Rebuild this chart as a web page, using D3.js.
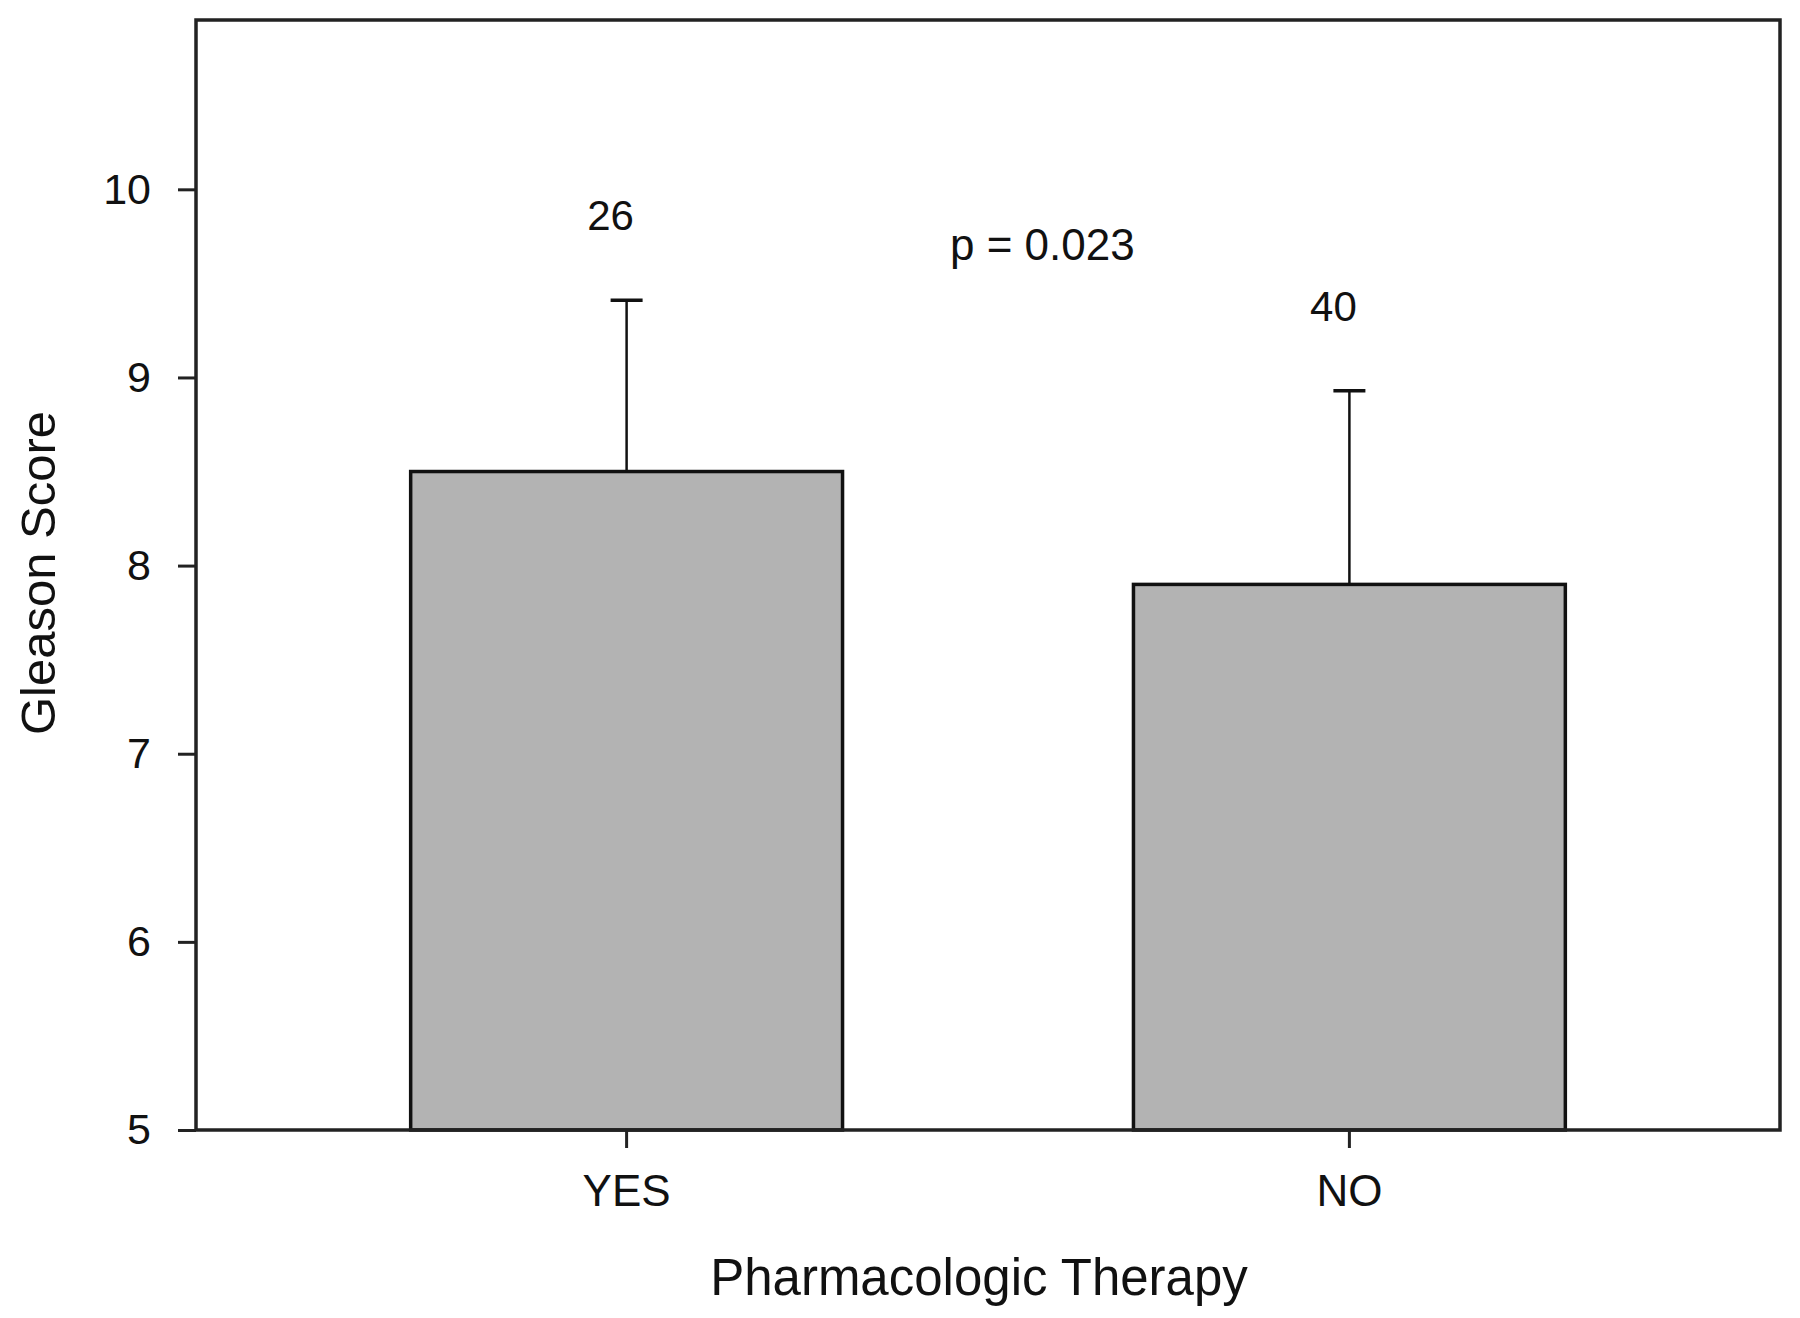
<!DOCTYPE html>
<html>
<head>
<meta charset="utf-8">
<script src="https://cdn.jsdelivr.net/npm/d3@7"></script>
<style>
  html, body { margin: 0; padding: 0; background: #fff; }
  svg { display: block; }
  text { font-family: "Liberation Sans", Arial, sans-serif; fill: #111; }
</style>
</head>
<body>
<svg id="chart" width="1800" height="1318"></svg>
<script>
const categories = ["YES", "NO"];
const means = [8.5, 7.9];
const errors = [0.91, 1.03];
const counts = ["26", "40"];
const yTicks = [5, 6, 7, 8, 9, 10];
const pLabel = "p = 0.023";
const xTitle = "Pharmacologic Therapy";
const yTitle = "Gleason Score";

(function () {
const svg = d3.select("#chart");
const mLeft = 196, mRight = 1780, mTop = 20, mBottom = 1130;

const x = d3.scaleBand().domain(categories).range([mLeft, mRight])
  .paddingInner(0.4025).paddingOuter(0.297);
const y = d3.scaleLinear().domain([5, 10.9]).range([mBottom, mTop]);

const data = categories.map((c, i) => ({ c, m: means[i], e: errors[i], n: counts[i] }));

// bars
svg.append("g").selectAll("rect").data(data).join("rect")
  .attr("x", d => x(d.c))
  .attr("y", d => y(d.m))
  .attr("width", x.bandwidth())
  .attr("height", d => y(5) - y(d.m))
  .attr("fill", "#b3b3b3")
  .attr("stroke", "#111")
  .attr("stroke-width", 3.5);

// error bars (upper only)
const eg = svg.append("g").attr("stroke", "#111").attr("stroke-width", 2.5);
eg.selectAll("line.v").data(data).join("line").attr("class", "v")
  .attr("x1", d => x(d.c) + x.bandwidth() / 2)
  .attr("x2", d => x(d.c) + x.bandwidth() / 2)
  .attr("y1", d => y(d.m))
  .attr("y2", d => y(d.m + d.e));
eg.selectAll("line.cap").data(data).join("line").attr("class", "cap")
  .attr("stroke-width", 3.5)
  .attr("x1", d => x(d.c) + x.bandwidth() / 2 - 16)
  .attr("x2", d => x(d.c) + x.bandwidth() / 2 + 16)
  .attr("y1", d => y(d.m + d.e))
  .attr("y2", d => y(d.m + d.e));

// n labels
svg.append("g").selectAll("text").data(data).join("text")
  .attr("x", d => x(d.c) + x.bandwidth() / 2 - 16)
  .attr("y", d => y(d.m + d.e) - 70)
  .attr("text-anchor", "middle")
  .attr("font-size", 42)
  .text(d => d.n);

// p-value
svg.append("text").attr("x", 950).attr("y", 260)
  .attr("font-size", 44).text(pLabel);

// axes
const yAxis = d3.axisLeft(y).tickValues(yTicks).tickSize(18).tickPadding(27).tickFormat(d3.format("d"));
const gy = svg.append("g").attr("transform", `translate(${mLeft},0)`).call(yAxis);
gy.select(".domain").remove();
gy.selectAll(".tick line").attr("stroke", "#222").attr("stroke-width", 3);
gy.selectAll(".tick text").attr("font-size", 43).attr("font-family", "Liberation Sans, Arial, sans-serif").attr("fill", "#111");

const xAxis = d3.axisBottom(x).tickSize(18).tickPadding(27);
const gx = svg.append("g").attr("transform", `translate(0,${mBottom})`).call(xAxis);
gx.select(".domain").remove();
gx.selectAll(".tick line").attr("stroke", "#222").attr("stroke-width", 3);
gx.selectAll(".tick text").attr("font-size", 44).attr("font-family", "Liberation Sans, Arial, sans-serif").attr("fill", "#111");

// frame
svg.append("rect").attr("x", mLeft).attr("y", mTop)
  .attr("width", mRight - mLeft).attr("height", mBottom - mTop)
  .attr("fill", "none").attr("stroke", "#222").attr("stroke-width", 3.5);

// titles
svg.append("text").attr("x", 979).attr("y", 1295)
  .attr("text-anchor", "middle").attr("font-size", 51).text(xTitle);
svg.append("text").attr("transform", "translate(55,573) rotate(-90)")
  .attr("text-anchor", "middle").attr("font-size", 49).text(yTitle);
})();
</script>
</body>
</html>
